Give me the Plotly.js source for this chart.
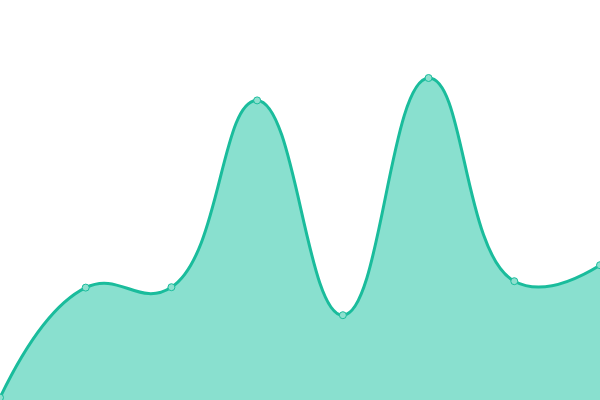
<!DOCTYPE html>
<html>
<head>
<meta charset="utf-8">
<script src="https://cdn.plot.ly/plotly-3.0.1.min.js"></script>
<style>
  html, body { margin: 0; padding: 0; background: #fff; }
  #chart { width: 600px; height: 400px; }
</style>
</head>
<body>
<div id="chart"></div>
<script>
// one point per step, no labels shown in the reference
const steps = [0, 1, 2, 3, 4, 5, 6, 7]
const values = [0.6, 28.1, 28.2, 74.9, 21.2, 80.5, 29.7, 33.7]

const lineColor = '#1abc9c'
const fillColor = '#89e0cf'

const trace = {
  x: steps,
  y: values,
  type: 'scatter',
  mode: 'lines+markers',
  fill: 'tozeroy',
  fillcolor: fillColor,
  line: { color: lineColor, width: 3, shape: 'spline', smoothing: 1.3 },
  marker: {
    size: 7,
    color: '#8ee0cf',
    line: { color: lineColor, width: 1 }
  },
  cliponaxis: false,
  hoverinfo: 'none'
}

Plotly.newPlot('chart', [trace], {
  width: 600,
  height: 400,
  margin: { l: 0, r: 0, t: 0, b: 0 },
  paper_bgcolor: '#fff',
  plot_bgcolor: '#fff',
  showlegend: false,
  xaxis: { range: [0, 7], visible: false, fixedrange: true },
  yaxis: { range: [0, 100], visible: false, fixedrange: true }
}, { displayModeBar: false, staticPlot: true })
</script>
</body>
</html>
